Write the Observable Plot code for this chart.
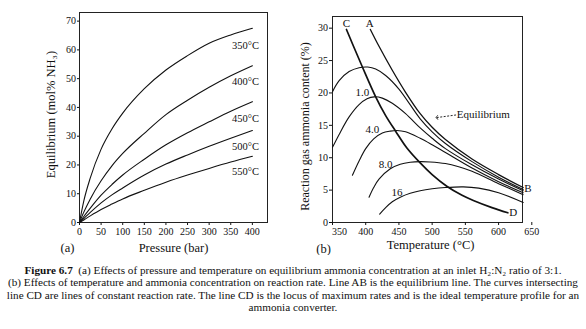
<!DOCTYPE html>
<html>
<head>
<meta charset="utf-8">
<script src="https://cdn.jsdelivr.net/npm/d3@7"></script>
<script src="https://cdn.jsdelivr.net/npm/@observablehq/plot@0.6"></script>
<style>
  html, body { margin: 0; padding: 0; background: #fff; }
  #wrap { width: 586px; height: 329px; position: relative; overflow: hidden; font-family: "Liberation Serif", "DejaVu Serif", serif; color: #111; }
  #row { display: flex; }
  #cap { position: absolute; left: 0; top: 264px; width: 586px; font-size: 11.2px; line-height: 12.3px; text-align: center; }
  #cap div { white-space: nowrap; }
</style>
</head>
<body>
<div id="wrap">
  <div id="row"><div id="pa"></div><div id="pb"></div></div>
  <div id="cap">
    <div><b>Figure 6.7</b>&nbsp; (a) Effects of pressure and temperature on equilibrium ammonia concentration at an inlet H₂:N₂ ratio of 3:1.</div>
    <div>(b) Effects of temperature and ammonia concentration on reaction rate. Line AB is the equilibrium line. The curves intersecting</div>
    <div>line CD are lines of constant reaction rate. The line CD is the locus of maximum rates and is the ideal temperature profile for an</div>
    <div>ammonia converter.</div>
  </div>
</div>
<script>
// ---------- Panel (a): equilibrium NH3 vs pressure ----------
const pressure = [0, 10, 25, 50, 75, 100, 150, 200, 250, 300, 350, 400];
const eq350 = [0, 7.5, 15.5, 25.5, 32.5, 38, 46.5, 53, 58, 62.3, 65.2, 67.5];
const eq400 = [0, 3.6, 8.2, 14.5, 19.7, 24, 31, 37.5, 42.5, 47, 51, 54.5];
const eq450 = [0, 2.1, 5, 9.5, 13.2, 16.5, 22, 27, 31.2, 35, 38.7, 42];
const eq500 = [0, 1.4, 3.5, 6.8, 9.6, 12, 16.5, 20.3, 23.5, 26.5, 29.3, 32];
const eq550 = [0, 0.9, 2.3, 4.5, 6.4, 8.2, 11.2, 14, 16.5, 18.8, 21, 23];
const tempLabelsA = ["350°C", "400°C", "450°C", "500°C", "550°C"];
const tempLabelA_P = 384;
const tempLabelA_Y = [61.6, 48.8, 36, 26.5, 17.8];
const xTicksA = [0, 50, 100, 150, 200, 250, 300, 350, 400];
const yTicksA = [0, 10, 20, 30, 40, 50, 60, 70];

// ---------- Panel (b): reaction rate curves ----------
const tAB = [407, 420, 440, 460, 482, 500, 520, 560, 600, 637];
const vAB = [29.8, 27.2, 23.5, 20.1, 16.8, 14.7, 12.8, 9.8, 7.4, 5.4];
const tR0 = [350, 360, 375, 390, 403, 415, 430, 450, 482, 500, 520, 560, 600, 637];
const vR0 = [20.2, 21.9, 23.3, 23.9, 24.0, 23.7, 22.7, 20.6, 16.0, 14.0, 12.2, 9.4, 7.0, 5.1];
const tR1 = [350, 360, 375, 390, 402, 413, 425, 440, 460, 482, 500, 520, 560, 600, 637];
const vR1 = [11.6, 13.6, 16.3, 18.2, 19.1, 19.4, 19.2, 18.4, 16.8, 14.6, 13.0, 11.4, 8.9, 6.7, 4.9];
const tR4 = [380, 390, 400, 412, 425, 437, 447, 460, 482, 500, 520, 560, 600, 637];
const vR4 = [7.3, 9.5, 11.4, 12.9, 13.8, 14.1, 14.2, 14.0, 13.0, 12.0, 10.8, 8.4, 6.3, 4.6];
const tR8 = [405, 412, 420, 437, 452, 467, 482, 497, 520, 540, 560, 600, 637];
const vR8 = [3.9, 5.4, 6.7, 8.3, 9.0, 9.3, 9.4, 9.35, 9.1, 8.6, 7.9, 6.0, 4.3];
const tR16 = [421, 430, 440, 452, 467, 482, 500, 520, 547, 570, 600, 637];
const vR16 = [1.3, 2.3, 3.2, 3.9, 4.5, 4.9, 5.2, 5.4, 5.5, 5.3, 4.6, 3.1];
const tCD = [371, 380, 395, 415, 430, 445, 462, 482, 500, 522, 545, 562, 590, 614];
const vCD = [29.8, 27.6, 24.0, 19.4, 16.5, 14.1, 11.5, 9.2, 7.4, 5.6, 4.2, 3.4, 2.3, 1.5];
const letterNames = ["C", "A", "B", "D"];
const letterT = [371, 406, 644, 622];
const letterV = [30.7, 30.7, 5.2, 1.5];
const rateNames = ["1.0", "4.0", "8.0", "16"];
const rateT = [395, 410, 430, 447];
const rateV = [20.1, 14.4, 9.0, 4.6];
const eqText = "Equilibrium";
const eqTextT = 537, eqTextV = 16.6;
const eqArrowT = 507, eqArrowV = 16.2;
const xTicksB = [350, 400, 450, 500, 550, 600, 650];
const yTicksB = [0, 5, 10, 15, 20, 25, 30];

const font = "Liberation Serif, DejaVu Serif, serif";
const ink = "#111";

const seriesA = [eq350, eq400, eq450, eq500, eq550].map((vals, k) =>
  pressure.map((p, i) => ({p, v: vals[i], s: k})));

const plotA = Plot.plot({
  width: 290, height: 255,
  marginLeft: 79, marginRight: 23, marginTop: 12, marginBottom: 33,
  style: {fontFamily: font, fontSize: "10px", color: ink, background: "transparent"},
  x: {domain: [0, 435], ticks: xTicksA, tickSize: 3, tickPadding: 2, label: null},
  y: {domain: [0, 73], ticks: yTicksA, tickSize: 2, tickPadding: 1.5, label: null},
  marks: [
    Plot.frame({stroke: "#222"}),
    ...seriesA.map(d => Plot.line(d, {x: "p", y: "v", curve: "monotone-x", stroke: ink, strokeWidth: 1.1})),
    Plot.text(tempLabelsA, {x: () => tempLabelA_P, y: (d, i) => tempLabelA_Y[i], text: d => d, fontSize: 10.5, fill: ink}),
    Plot.text(["Pressure (bar)"], {frameAnchor: "bottom", dy: 25, lineAnchor: "middle", fontSize: 12.5, fill: ink}),
    Plot.text(["(a)"], {frameAnchor: "bottom-left", textAnchor: "middle", dx: -12, dy: 25, lineAnchor: "middle", fontSize: 12.5, fill: ink}),
    Plot.text(["Equilibrium (mol% NH₃)"], {frameAnchor: "left", textAnchor: "middle", rotate: -90, dx: -29, dy: -3, lineAnchor: "middle", fontSize: 12.5, fill: ink})
  ]
});
document.getElementById("pa").appendChild(plotA);

const mk = (ts, vs) => ts.map((t, i) => ({t, v: vs[i]}));
const curvesB = [mk(tR0, vR0), mk(tR1, vR1), mk(tR4, vR4), mk(tR8, vR8), mk(tR16, vR16)];

const plotB = Plot.plot({
  width: 296, height: 255,
  marginLeft: 42, marginRight: 64, marginTop: 16, marginBottom: 33,
  style: {fontFamily: font, fontSize: "10px", color: ink, background: "transparent"},
  x: {domain: [350, 636], label: null},
  y: {domain: [0, 31.8], label: null},
  marks: [
    Plot.frame({stroke: "#222"}),
    Plot.axisY(yTicksB, {tickSize: 3, tickPadding: 1.5, label: null}),
    Plot.axisX(xTicksB, {tickSize: 3, tickPadding: 2, label: null, tickFormat: d => d === xTicksB[0] ? "" : d}),
    Plot.text(xTicksB.slice(0, 1), {x: d => d, text: d => d, frameAnchor: "bottom", dx: 7, dy: 5, lineAnchor: "top", fontSize: 10, fill: ink}),
    ...curvesB.map(d => Plot.line(d, {x: "t", y: "v", curve: "catmull-rom", stroke: ink, strokeWidth: 1.1})),
    Plot.line(mk(tAB, vAB), {x: "t", y: "v", curve: "catmull-rom", stroke: ink, strokeWidth: 1.3}),
    Plot.line(mk(tCD, vCD), {x: "t", y: "v", curve: "catmull-rom", stroke: ink, strokeWidth: 1.7}),
    Plot.text(letterNames, {x: (d, i) => letterT[i], y: (d, i) => letterV[i], text: d => d, fontSize: 11, fill: ink}),
    Plot.text(rateNames, {x: (d, i) => rateT[i], y: (d, i) => rateV[i], text: d => d, fontSize: 11, fill: ink}),
    Plot.text([eqText], {x: () => eqTextT, y: () => eqTextV, text: d => d, textAnchor: "start", fontSize: 11, fill: ink}),
    Plot.link([0], {x1: () => eqTextT - 1, y1: () => eqTextV, x2: () => eqArrowT, y2: () => eqArrowV, stroke: ink, strokeWidth: 0.9, strokeDasharray: "2,1.5", markerEnd: "arrow"}),
    Plot.text(["Temperature (°C)"], {frameAnchor: "bottom", dx: 3, dy: 22, lineAnchor: "middle", fontSize: 12.5, fill: ink}),
    Plot.text(["(b)"], {frameAnchor: "bottom-left", textAnchor: "middle", dx: -9, dy: 26, lineAnchor: "middle", fontSize: 12.5, fill: ink}),
    Plot.text(["Reaction gas ammonia content (%)"], {frameAnchor: "left", textAnchor: "middle", rotate: -90, dx: -27, dy: 7, lineAnchor: "middle", fontSize: 12, fill: ink})
  ]
});
document.getElementById("pb").appendChild(plotB);
</script>
</body>
</html>
